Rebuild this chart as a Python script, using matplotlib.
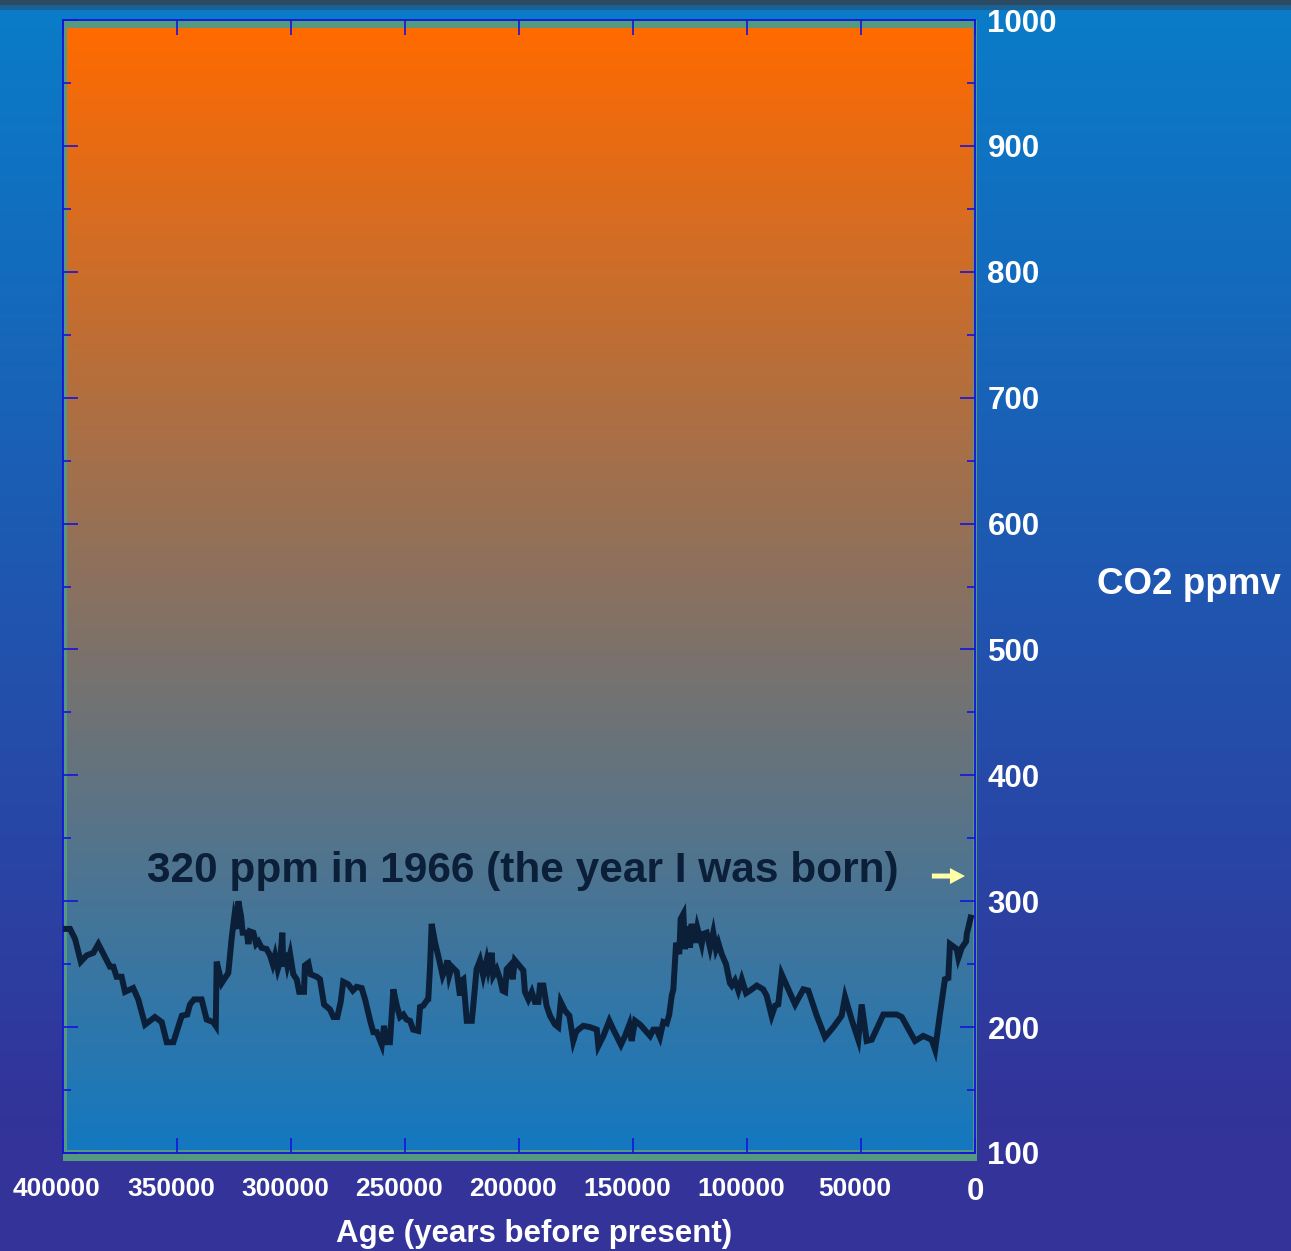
import matplotlib as mpl
import matplotlib.pyplot as plt
import numpy as np
from matplotlib.colors import LinearSegmentedColormap
from matplotlib.patches import Rectangle
from matplotlib.ticker import MultipleLocator
from matplotlib.transforms import ScaledTranslation

# Vostok ice core CO2 record (age in thousands of years before present)
age_kyr = [
    400.0, 396.9, 394.7, 392.2, 389.6, 386.7, 384.5, 380.8, 379.4, 377.9,
    376.5, 374.3, 372.8, 369.2, 367.0, 364.0, 359.7, 356.7, 354.5, 351.6,
    347.9, 345.5, 344.3, 342.5, 339.2, 337.0, 334.1, 333.0, 332.6, 330.4,
    327.5, 326.0, 324.9, 323.8, 323.1, 321.9, 321.2, 319.4, 318.7, 318.0,
    316.5, 315.3, 314.3, 312.9, 310.7, 309.2, 308.0, 307.0, 305.8, 304.8,
    303.8, 303.4, 302.6, 301.6, 300.4, 299.0, 297.5, 296.4, 294.3, 293.9,
    292.4, 291.4, 288.7, 287.3, 285.5, 282.9, 281.4, 279.7, 278.2, 277.1,
    274.9, 272.9, 271.2, 269.0, 267.5, 265.4, 263.9, 262.4, 260.2, 259.2,
    258.0, 256.6, 255.1, 253.6, 252.2, 250.7, 249.3, 247.8, 246.4, 244.2,
    243.4, 242.0, 240.5, 239.8, 239.0, 238.3, 236.8, 234.7, 233.5, 232.0,
    231.4, 230.6, 229.5, 227.3, 225.9, 225.1, 224.4, 222.9, 220.7, 220.0,
    218.6, 217.1, 215.7, 214.2, 213.5, 212.0, 211.3, 209.8, 208.3, 207.2,
    206.1, 205.4, 203.9, 202.8, 201.8, 198.1, 197.4, 195.9, 194.4, 193.0,
    191.5, 190.8, 189.3, 187.9, 186.4, 184.2, 182.8, 181.7, 179.8, 177.9,
    176.2, 175.0, 174.0, 171.8, 168.9, 165.9, 165.2, 163.0, 160.4, 158.6,
    155.3, 153.5, 151.6, 150.6, 149.1, 146.9, 142.5, 141.1, 139.6, 138.2,
    136.7, 135.2, 134.1, 133.0, 132.3, 131.1, 129.7, 129.1, 127.9, 127.2,
    125.7, 125.0, 124.3, 122.8, 121.8, 119.9, 119.2, 117.7, 116.2, 114.8,
    113.6, 112.6, 111.1, 109.2, 107.5, 106.7, 105.3, 103.8, 102.3, 100.4,
    98.7, 95.7, 92.9, 91.4, 89.2, 87.7, 86.3, 84.8, 82.6, 78.9,
    75.3, 73.1, 69.4, 65.8, 62.1, 58.5, 57.0, 54.1, 51.2, 49.7,
    47.5, 45.3, 40.2, 34.3, 32.1, 26.3, 22.7, 19.0, 17.5, 15.4,
    13.2, 11.7, 11.0, 8.0, 7.3, 5.8, 3.9, 3.6, 1.9,
]
co2_ppmv = [
    278, 278, 270, 252, 257, 259, 266, 253, 248, 248,
    240, 240, 228, 231, 222, 202, 208, 204, 188, 188,
    209, 210, 218, 222, 222, 206, 204, 201, 252, 235,
    243, 271, 287, 278, 300, 288, 275, 275, 266, 276,
    275, 266, 268, 263, 262, 257, 250, 257, 246, 252,
    275, 248, 259, 249, 258, 242, 238, 228, 228, 249,
    251, 242, 240, 238, 218, 214, 208, 208, 220, 236,
    234, 229, 232, 231, 222, 206, 196, 196, 186, 201,
    188, 188, 230, 217, 208, 210, 206, 205, 198, 197,
    216, 217, 221, 222, 249, 282, 267, 251, 241, 248,
    253, 241, 248, 244, 225, 237, 238, 205, 205, 218,
    246, 253, 241, 253, 246, 259, 241, 246, 238, 229,
    228, 246, 249, 238, 253, 245, 228, 222, 228, 220,
    220, 233, 233, 217, 209, 202, 200, 220, 213, 209,
    189, 196, 198, 201, 200, 198, 185, 193, 205, 198,
    186, 193, 202, 189, 205, 202, 193, 198, 198, 192,
    204, 203, 210, 225, 230, 267, 258, 286, 290, 262,
    280, 263, 282, 267, 279, 266, 274, 275, 263, 275,
    262, 267, 258, 250, 235, 233, 237, 229, 238, 227,
    229, 233, 230, 225, 209, 217, 218, 242, 233, 218,
    230, 229, 209, 192, 200, 209, 224, 206, 190, 218,
    189, 190, 210, 210, 208, 189, 193, 190, 182, 210,
    238, 239, 266, 262, 255, 263, 268, 274, 287,
]

x_ticks = [400000, 350000, 300000, 250000, 200000, 150000, 100000, 50000, 0]
x_tick_labels = ['400000', '350000', '300000', '250000', '200000',
                 '150000', '100000', '50000', '0']
y_ticks = [100, 200, 300, 400, 500, 600, 700, 800, 900, 1000]

born_ppm = 320
born_label = '320 ppm in 1966 (the year I was born)'

W, H = 1291, 1251
NAVY = '#0b1f38'
FRAME = '#1414dc'
SHADOW = '#559a80'

mpl.rcParams['font.family'] = ['Liberation Sans', 'DejaVu Sans']
mpl.rcParams['font.weight'] = 'bold'


def vgradient(stops, n):
    # one-column RGB image, row 0 at the top
    cmap = LinearSegmentedColormap.from_list('g', stops)
    return cmap(np.linspace(0, 1, n))[:, None, :3]


fig = plt.figure(figsize=(W / 100, H / 100), dpi=100)

# slide background
bg = fig.add_axes([0, 0, 1, 1], zorder=-10)
bg.imshow(vgradient([(0, '#2c4a62'), (10 / H, '#0a7cc8'),
                     (1130 / H, '#333399'), (1, '#333399')], H),
          extent=[0, 1, 0, 1], aspect='auto', origin='upper')
# green drop shadow behind the plot box
bg.add_patch(Rectangle((63 / W, (H - 1161) / H), (977 - 63) / W, (1161 - 20) / H,
                       color=SHADOW, lw=0))
bg.set_xlim(0, 1)
bg.set_ylim(0, 1)
bg.axis('off')

ax = fig.add_axes([63 / W, (H - 1153) / H, (975 - 63) / W, (1153 - 20) / H])
ax.set_facecolor(SHADOW)
ax.imshow(vgradient(['#ff6a00', '#1478c0'], 600),
          extent=[398250, 1000, 102.4, 992.9], aspect='auto', origin='upper', zorder=0)

ax.plot(np.array(age_kyr) * 1000, co2_ppmv, color=NAVY, lw=4.3,
        solid_joinstyle='miter', zorder=3)

ax.set_xlim(400000, 0)
ax.set_ylim(100, 1000)
ax.set_xticks(x_ticks, x_tick_labels)
ax.set_yticks(y_ticks)
ax.yaxis.set_minor_locator(MultipleLocator(50))

for s in ax.spines.values():
    s.set_color(FRAME)
    s.set_linewidth(1.3)

ax.tick_params(which='both', direction='in', color=FRAME, width=1.2,
               top=True, bottom=True, left=True, right=True,
               labelleft=False, labelright=True, labelcolor='white')
ax.tick_params(which='major', length=11)
ax.tick_params(which='minor', length=5.8)
ax.tick_params(axis='x', labelsize=19, pad=17)
ax.tick_params(axis='y', labelsize=22.5, pad=9)

# the big numbers sit a little left of their ticks; the final "0" is larger
nudge = ScaledTranslation(-6 / 100, 0, fig.dpi_scale_trans)
xt = ax.xaxis.get_major_ticks()
for t in xt[:-1]:
    t.label1.set_transform(t.label1.get_transform() + nudge)
xt[-1].label1.set_fontsize(22.5)

ax.text(363000, 315, born_label, color=NAVY, fontsize=30.5,
        ha='left', va='baseline', zorder=4)
ax.annotate('', xy=(4400, born_ppm), xytext=(18900, born_ppm),
            arrowprops=dict(width=3.6, headwidth=11.5, headlength=10.8,
                            shrink=0, color='#ffffa8', lw=0), zorder=4)

fig.text(1097 / W, 1 - 594 / H, 'CO2 ppmv', color='white', fontsize=26.5,
         ha='left', va='baseline')
fig.text(534 / W, 1 - 1242 / H, 'Age (years before present)', color='white',
         fontsize=22.5, ha='center', va='baseline')

fig.savefig('out.png', dpi=100)
